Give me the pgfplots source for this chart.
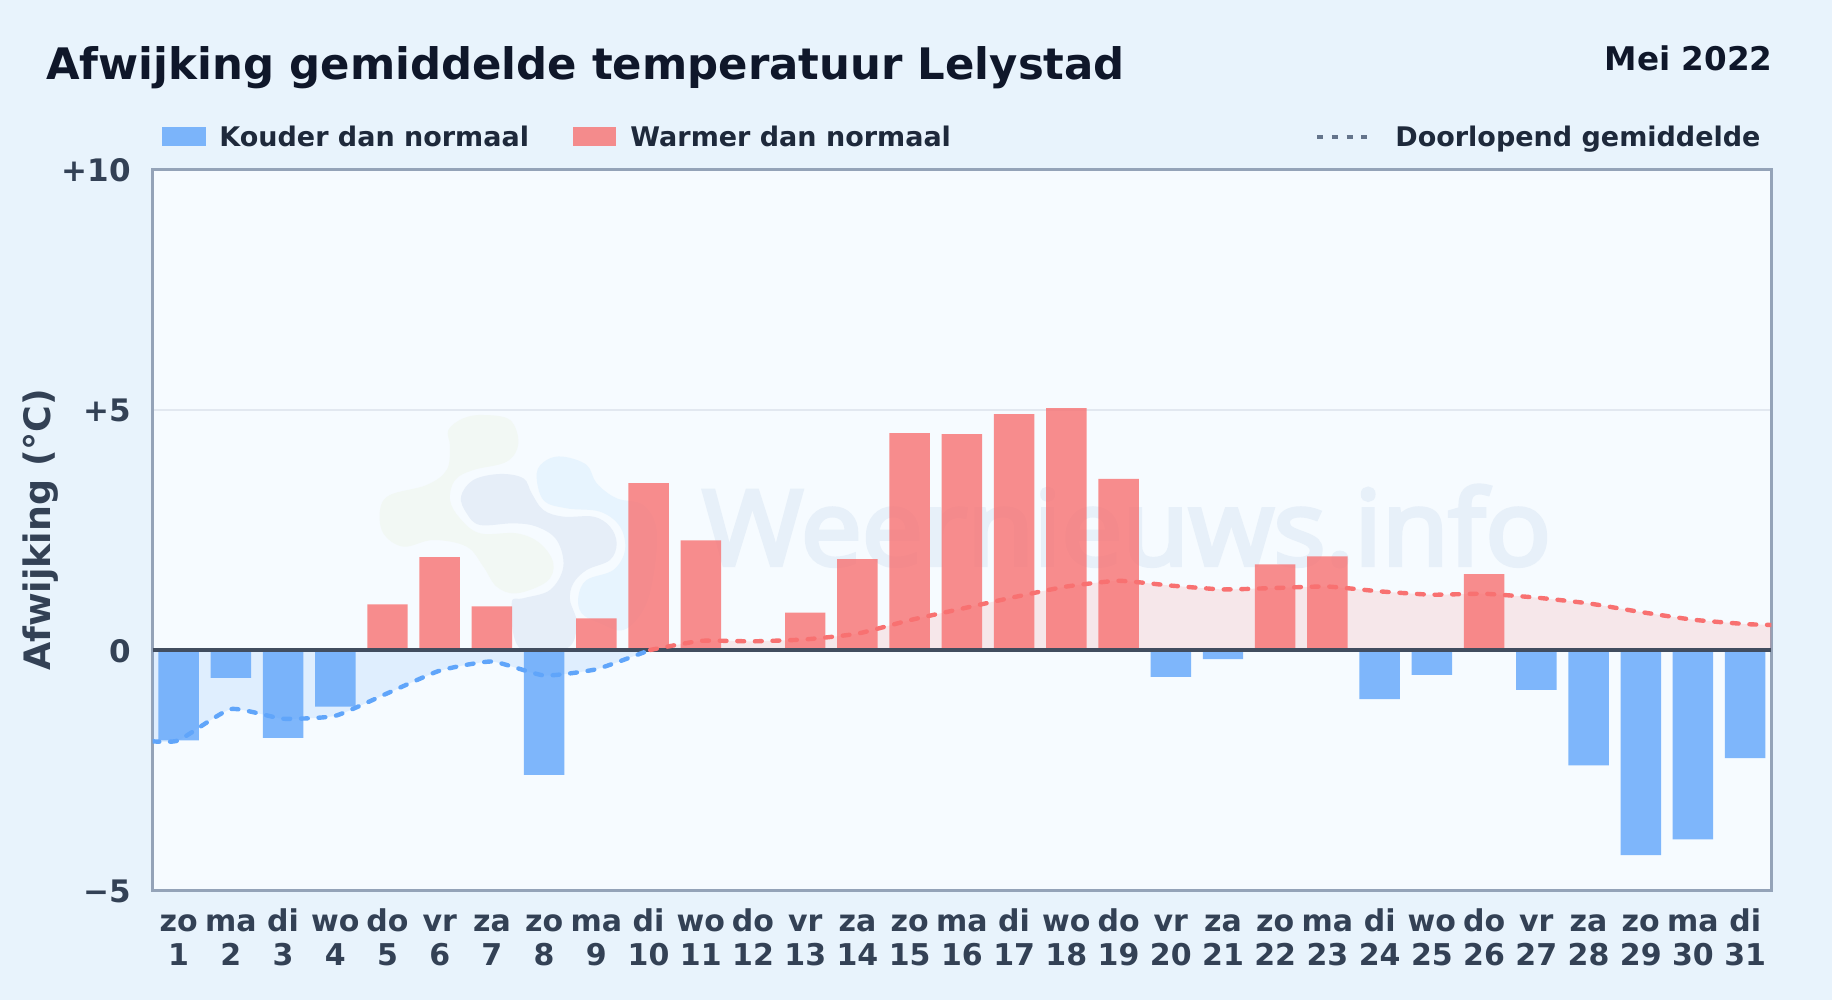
\documentclass[border=0pt]{standalone}
\usepackage{fontspec}
\usepackage{pgfplots}
\pgfplotsset{compat=1.18}
\setmainfont{DejaVu Sans}
\newfontfamily\wmfont{Open Sans}[FakeBold=4]

\definecolor{pagebg}{HTML}{E8F3FC}
\definecolor{plotbg}{HTML}{F6FBFF}
\definecolor{spine}{HTML}{94A3B8}
\definecolor{gridc}{HTML}{E2E8F0}
\definecolor{zeroc}{HTML}{414D5F}
\definecolor{koud}{HTML}{60A5FA}
\definecolor{warm}{HTML}{F87171}
\definecolor{titlec}{HTML}{0F172A}
\definecolor{legc}{HTML}{1E293B}
\definecolor{tickc}{HTML}{334155}
\definecolor{dotc}{HTML}{64748B}
\definecolor{wmgreen}{HTML}{F2F8F4}
\definecolor{wmgrey}{HTML}{E6EEF8}
\definecolor{wmblue}{HTML}{E7F4FE}
\definecolor{wmtext}{HTML}{E7F0F9}

\begin{document}
\begin{tikzpicture}
\path[use as bounding box, fill=pagebg] (0,0) rectangle (916pt,500pt);
\fill[plotbg] (76.25pt,54.85pt) rectangle (885.65pt,415.3pt);

% watermark, coordinates in thirds of a pixel from (360,390)
\begin{scope}[shift={(180pt,305pt)},x=0.16667pt,y=-0.16667pt]
\fill[wmgreen] plot[smooth cycle,tension=0.6] coordinates {(370,75)(450,90)(475,160)(440,215)(340,240)(285,270)(270,330)(300,385)(360,430)(470,430)(540,460)(580,520)(560,575)(470,610)(410,590)(370,530)(320,470)(220,450)(130,470)(70,430)(60,360)(90,315)(200,285)(260,240)(270,170)(265,120)(310,85)};
\fill[wmgrey] plot[smooth cycle,tension=0.6] coordinates {(420,252)(490,265)(515,310)(550,360)(610,380)(700,380)(750,410)(770,460)(750,510)(680,540)(640,580)(630,630)(650,700)(620,775)(480,775)(455,640)(490,625)(570,600)(610,530)(590,450)(530,410)(460,400)(360,405)(320,370)(303,320)(340,270)};
\fill[wmblue] plot[smooth cycle,tension=0.6] coordinates {(530,250)(560,210)(610,200)(680,225)(710,280)(770,325)(850,345)(890,420)(880,560)(850,660)(790,720)(720,700)(665,670)(655,620)(680,570)(760,540)(795,480)(780,410)(720,365)(620,355)(550,330)};
\end{scope}
\node[anchor=base west,inner sep=0pt,text=wmtext,xscale=1.045,transform shape,font=\wmfont\fontsize{52}{60}\selectfont] at (351pt,217.5pt) {Weernieuws.info};

\begin{axis}[
    at={(76.25pt,54.85pt)},
    anchor=south west,
    scale only axis,
    width=809.4pt,
    height=360.45pt,
    xmin=0.5, xmax=31.5,
    ymin=-5, ymax=10,
    axis line style={draw=spine,line width=1.25pt},
    major tick length=0pt,
    ytick={-5,0,5,10},
    yticklabels={−5,0,+5,+10},
    xtick={1,...,31},
    xticklabels={{\strut zo\\1},{\strut ma\\2},{\strut di\\3},{\strut wo\\4},{\strut do\\5},{\strut vr\\6},{\strut za\\7},{\strut zo\\8},{\strut ma\\9},{\strut di\\10},{\strut wo\\11},{\strut do\\12},{\strut vr\\13},{\strut za\\14},{\strut zo\\15},{\strut ma\\16},{\strut di\\17},{\strut wo\\18},{\strut do\\19},{\strut vr\\20},{\strut za\\21},{\strut zo\\22},{\strut ma\\23},{\strut di\\24},{\strut wo\\25},{\strut do\\26},{\strut vr\\27},{\strut za\\28},{\strut zo\\29},{\strut ma\\30},{\strut di\\31}},
    xticklabel style={align=center,inner sep=0pt,anchor=north,yshift=-8.6pt,text=tickc,
        font={\fontsize{15}{17}\bfseries\selectfont}},
    yticklabel style={inner sep=0pt,anchor=east,xshift=-10.75pt,yshift=-0.4pt,text=tickc,
        font={\fontsize{15.5}{17}\bfseries\selectfont}},
    ymajorgrids=true,
    grid style={gridc,line width=1pt},
    title={Afwijking gemiddelde temperatuur Lelystad},
    title style={at={(axis description cs:-0.0658,1.1086)},anchor=base west,inner sep=0pt,
        text=titlec,font={\fontsize{21.7}{24}\bfseries\selectfont}},
    ylabel={Afwijking (°C)},
    every axis y label/.style={at={(axis description cs:-0.0692,0.5)},rotate=90,anchor=center,
        inner sep=0pt,text=tickc,font={\fontsize{18.2}{22}\bfseries\selectfont}},
]

% running mean, area under the line
\addplot[draw=none,fill=koud,fill opacity=0.15,smooth,tension=0.3] coordinates {
    (0.5,-1.90) (1,-1.88) (2,-1.23) (3,-1.43) (4,-1.37) (5,-0.90) (6,-0.43) (7,-0.24)
    (8,-0.53) (9,-0.40) (10.03,0)
} \closedcycle;
\addplot[draw=none,fill=warm,fill opacity=0.14,smooth,tension=0.3] coordinates {
    (10.03,0) (11,0.19) (12,0.18) (13,0.22) (14,0.34) (15,0.62) (16,0.86) (17,1.10)
    (18,1.32) (19,1.44) (20,1.34) (21,1.26) (22,1.29) (23,1.32) (24,1.22) (25,1.15)
    (26,1.17) (27,1.09) (28,0.97) (29,0.79) (30,0.63) (31,0.54) (31.5,0.52)
} \closedcycle;

% daily deviation
\addplot[ybar,bar width=0.775,bar shift=0pt,draw=none,fill=koud,fill opacity=0.8] coordinates {
    (1,-1.88) (2,-0.58) (3,-1.83) (4,-1.18) (8,-2.60) (20,-0.56) (21,-0.19) (24,-1.02)
    (25,-0.52) (27,-0.83) (28,-2.40) (29,-4.27) (30,-3.94) (31,-2.25)
};
\addplot[ybar,bar width=0.775,bar shift=0pt,draw=none,fill=warm,fill opacity=0.8] coordinates {
    (5,0.95) (6,1.93) (7,0.91) (9,0.66) (10,3.47) (11,2.28) (13,0.78) (14,1.89) (15,4.51)
    (16,4.49) (17,4.91) (18,5.03) (19,3.56) (22,1.78) (23,1.95) (26,1.58)
};

% zero line
\addplot[zeroc,line width=1.75pt,forget plot] coordinates {(0.5,0) (31.5,0)};

% running mean, line
\addplot[koud,line width=2.2pt,line cap=round,dash pattern=on 3.4pt off 5.4pt,smooth,tension=0.3] coordinates {
    (0.5,-1.90) (1,-1.88) (2,-1.23) (3,-1.43) (4,-1.37) (5,-0.90) (6,-0.43) (7,-0.24)
    (8,-0.53) (9,-0.40) (10.03,0)
};
\addplot[warm,line width=2.2pt,line cap=round,dash pattern=on 3.4pt off 5.4pt,smooth,tension=0.3] coordinates {
    (10.03,0) (11,0.19) (12,0.18) (13,0.22) (14,0.34) (15,0.62) (16,0.86) (17,1.10)
    (18,1.32) (19,1.44) (20,1.34) (21,1.26) (22,1.29) (23,1.32) (24,1.22) (25,1.15)
    (26,1.17) (27,1.09) (28,0.97) (29,0.79) (30,0.63) (31,0.54) (31.5,0.52)
};
\end{axis}

% month and legend, in pixels
\begin{scope}[shift={(0,500pt)},x=0.5pt,y=-0.5pt]
\node[anchor=base east,inner sep=0pt,text=titlec,font={\fontsize{16.3}{18}\bfseries\selectfont}] at (1773,71) {Mei 2022};
\fill[koud,fill opacity=0.8] (162,127) rectangle (206,146);
\node[anchor=base west,inner sep=0pt,text=legc,font={\fontsize{13.5}{16}\bfseries\selectfont}] at (219,147) {Kouder dan normaal};
\fill[warm,fill opacity=0.8] (573,127) rectangle (616,146);
\node[anchor=base west,inner sep=0pt,text=legc,font={\fontsize{13.5}{16}\bfseries\selectfont}] at (630,147) {Warmer dan normaal};
\draw[dotc,line width=1.7pt,dash pattern=on 3pt off 4.4pt] (1317,137) -- (1374,137);
\node[anchor=base west,inner sep=0pt,text=legc,font={\fontsize{13.5}{16}\bfseries\selectfont}] at (1395,147) {Doorlopend gemiddelde};
\end{scope}
\end{tikzpicture}
\end{document}
